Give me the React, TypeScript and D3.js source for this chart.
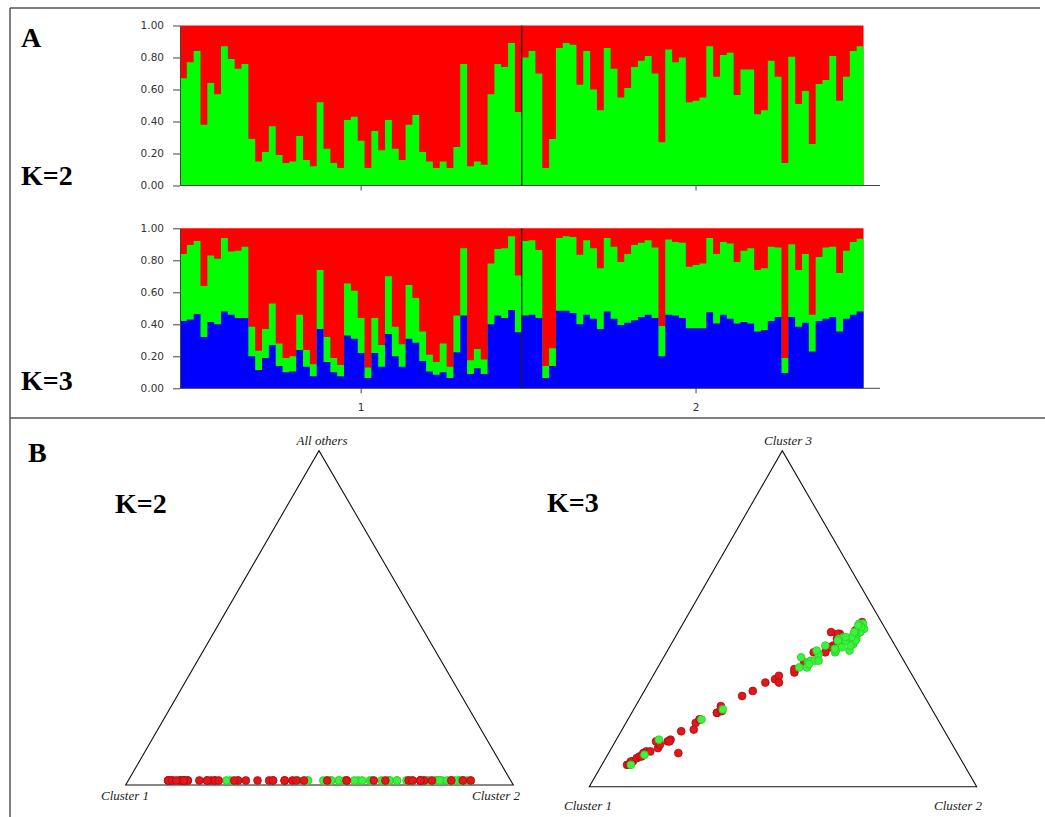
import React, { useEffect, useRef } from 'react';
import * as d3 from 'd3';

// K=2 membership in the green cluster (red = 1 - green), population 1 then 2
const pop1K2Green = [0.67,0.77,0.84,0.38,0.64,0.57,0.87,0.79,0.73,0.76,0.29,0.15,0.21,0.37,0.19,0.14,0.15,0.31,0.16,0.12,0.52,0.23,0.14,0.11,0.41,0.43,0.28,0.11,0.34,0.22,0.41,0.23,0.16,0.38,0.44,0.21,0.15,0.11,0.15,0.11,0.24,0.76,0.12,0.15,0.13,0.57,0.76,0.74,0.89,0.46];
const pop2K2Green = [0.80,0.84,0.70,0.11,0.29,0.86,0.89,0.88,0.63,0.84,0.60,0.47,0.86,0.73,0.55,0.61,0.74,0.78,0.81,0.70,0.27,0.85,0.77,0.80,0.52,0.53,0.55,0.87,0.68,0.815,0.83,0.565,0.725,0.725,0.445,0.47,0.78,0.68,0.14,0.805,0.51,0.59,0.26,0.635,0.66,0.81,0.53,0.68,0.84,0.87];

// K=3 memberships: blue and green clusters (red = remainder)
const pop1K3Blue = [0.42,0.43,0.465,0.32,0.415,0.40,0.48,0.46,0.44,0.44,0.20,0.115,0.19,0.27,0.14,0.10,0.105,0.24,0.135,0.075,0.37,0.165,0.10,0.075,0.33,0.31,0.22,0.065,0.22,0.135,0.34,0.20,0.135,0.31,0.285,0.17,0.105,0.085,0.10,0.065,0.225,0.455,0.09,0.125,0.09,0.40,0.455,0.44,0.49,0.35];
const pop1K3Green = [0.42,0.465,0.455,0.32,0.415,0.41,0.46,0.395,0.42,0.445,0.185,0.12,0.18,0.26,0.14,0.09,0.095,0.22,0.105,0.075,0.37,0.155,0.09,0.07,0.325,0.30,0.22,0.065,0.22,0.135,0.36,0.185,0.14,0.335,0.28,0.185,0.105,0.08,0.18,0.07,0.23,0.42,0.085,0.12,0.09,0.38,0.415,0.435,0.46,0.355];
const pop2K3Blue = [0.455,0.46,0.44,0.065,0.14,0.485,0.485,0.47,0.40,0.46,0.435,0.37,0.48,0.435,0.395,0.41,0.425,0.445,0.46,0.44,0.20,0.46,0.455,0.44,0.375,0.375,0.375,0.475,0.405,0.46,0.435,0.405,0.415,0.405,0.355,0.365,0.42,0.445,0.095,0.445,0.385,0.41,0.23,0.42,0.435,0.445,0.355,0.435,0.46,0.48];
const pop2K3Green = [0.465,0.465,0.425,0.075,0.11,0.455,0.465,0.475,0.435,0.465,0.44,0.38,0.46,0.45,0.395,0.43,0.47,0.465,0.465,0.44,0.19,0.47,0.46,0.47,0.385,0.395,0.405,0.465,0.435,0.455,0.47,0.385,0.445,0.47,0.385,0.385,0.465,0.435,0.095,0.455,0.355,0.43,0.23,0.40,0.445,0.44,0.365,0.425,0.455,0.455];

const yTickValues = [0, 0.2, 0.4, 0.6, 0.8, 1.0];
const popLabels = ['1', '2'];
const popTickIndex = [26, 75];
const k2CornerLabels = ['Cluster 1', 'Cluster 2', 'All others'];
const k3CornerLabels = ['Cluster 1', 'Cluster 2', 'Cluster 3'];

const COLORS: Record<string, string> = { red: '#ff0000', green: '#00ff00', blue: '#0000ff' };

type Pt = [number, number];

function tern(q: number[], V: Pt[]): Pt {
  return [
    q[0] * V[0][0] + q[1] * V[1][0] + q[2] * V[2][0],
    q[0] * V[0][1] + q[1] * V[1][1] + q[2] * V[2][1],
  ];
}

export default function App() {
  const axK2 = useRef<SVGGElement>(null);
  const axK3 = useRef<SVGGElement>(null);

  const n1 = pop1K2Green.length;
  const k2Green = [...pop1K2Green, ...pop2K2Green];
  const k3Blue = [...pop1K3Blue, ...pop2K3Blue];
  const k3Green = [...pop1K3Green, ...pop2K3Green];
  const ids = d3.range(k2Green.length);

  const x = d3.scaleBand<number>().domain(ids).range([180, 863.5]).padding(0);
  const bw = x.bandwidth();
  const yK2 = d3.scaleLinear().domain([0, 1]).range([185.5, 25.5]);
  const yK3 = d3.scaleLinear().domain([0, 1]).range([388.3, 228.3]);

  const k2Rows = k2Green.map((g) => ({ green: g, red: Math.max(0, 1 - g) }));
  const k3Rows = k3Blue.map((b, i) => ({ blue: b, green: k3Green[i], red: Math.max(0, 1 - b - k3Green[i]) }));
  const k2Stack = d3.stack<any>().keys(['green', 'red'])(k2Rows);
  const k3Stack = d3.stack<any>().keys(['blue', 'green', 'red'])(k3Rows);

  useEffect(() => {
    const mk = (ref: React.RefObject<SVGGElement>, y: d3.ScaleLinear<number, number>) => {
      if (!ref.current) return;
      const g = d3.select(ref.current);
      g.selectAll('*').remove();
      g.call(
        d3.axisLeft(y).tickValues(yTickValues).tickFormat(d3.format('.2f')).tickSize(7).tickSizeOuter(0).tickPadding(9)
      );
      g.select('.domain').attr('stroke', '#444').attr('stroke-width', 1);
      g.selectAll('.tick line').attr('stroke', '#444');
      g.selectAll('.tick text')
        .attr('font-family', 'DejaVu Sans, sans-serif')
        .attr('font-size', 10.5)
        .attr('fill', '#333');
    };
    mk(axK2, yK2);
    mk(axK3, yK3);
  }, []);

  const divX = x(n1)!;
  const endX = x(ids[ids.length - 1])! + bw;

  // Each layer drawn as one stepped area from 0 up to the layer's top: later layers cover earlier ones
  const renderBars = (stack: any[], y: d3.ScaleLinear<number, number>) => {
    const layers = [...stack].reverse();
    return layers.map((layer) => {
      const pts = layer.map((d: any, i: number) => ({ x: x(i)!, top: d[1] }));
      pts.push({ x: endX, top: layer[layer.length - 1][1] });
      const area = d3
        .area<any>()
        .x((d) => d.x)
        .y0(y(0))
        .y1((d) => y(d.top))
        .curve(d3.curveStepAfter);
      return <path key={layer.key} d={area(pts) || ''} fill={COLORS[layer.key]} />;
    });
  };

  const renderXAxis = (y: d3.ScaleLinear<number, number>, labels: boolean) => (
    <g stroke="#444">
      <line x1={180} x2={880} y1={y(0)} y2={y(0)} strokeWidth={1} />
      {popTickIndex.map((idx, j) => (
        <g key={j}>
          <line x1={x(idx)! + bw / 2} x2={x(idx)! + bw / 2} y1={y(0)} y2={y(0) + 5} />
          {labels && (
            <text
              x={x(idx)! + bw / 2}
              y={y(0) + 23}
              textAnchor="middle"
              stroke="none"
              fill="#333"
              fontFamily="DejaVu Sans, sans-serif"
              fontSize={10.5}
            >
              {popLabels[j]}
            </text>
          )}
        </g>
      ))}
      <line x1={divX} x2={divX} y1={y(1)} y2={y(0)} stroke="#222" strokeWidth={1.3} />
    </g>
  );

  // ternary triangles
  const VL: Pt[] = [[125.7, 785], [513.3, 785], [319, 450.7]];
  const VR: Pt[] = [[589.3, 786.7], [976.7, 786.7], [782.3, 450.7]];

  const k2Pts = k2Green.map((g, i) => ({ p: tern([1 - g, g, 0], VL), pop: i < n1 ? 1 : 2 }));
  const k3Pts = k3Blue.map((b, i) => ({ p: tern([1 - b - k3Green[i], k3Green[i], b], VR), pop: i < n1 ? 1 : 2 }));

  const drawPts = (pts: { p: Pt; pop: number }[], dy: number, order: number[]) => (
    <g>
      {order.map((pop) =>
        pts
          .filter((d) => d.pop === pop)
          .map((d, i) => (
            <circle
              key={pop + '-' + i}
              cx={d.p[0]}
              cy={d.p[1] + dy}
              r={3.9}
              fill={pop === 1 ? '#e3161b' : '#3cf23c'}
              stroke={pop === 1 ? '#a80e10' : '#26cf26'}
              strokeWidth={0.8}
            />
          ))
      )}
    </g>
  );

  const tri = (V: Pt[]) => (
    <polygon points={V.map((v) => v.join(',')).join(' ')} fill="none" stroke="#111" strokeWidth={1.1} />
  );

  const cornerLabel = (t: string, cx: number, by: number, key: string) => (
    <text key={key} x={cx} y={by} textAnchor="middle" fontFamily="Liberation Serif, serif" fontStyle="italic" fontSize={13} fill="#222">
      {t}
    </text>
  );

  const bigLabel = (t: string, lx: number, by: number) => (
    <text x={lx} y={by} fontFamily="Liberation Serif, serif" fontWeight="bold" fontSize={28} fill="#000">
      {t}
    </text>
  );

  return (
    <div style={{ position: 'fixed', left: 0, top: 0 }}>
      <svg width={1045} height={817} viewBox="0 0 1045 817" style={{ display: 'block', background: '#fff' }}>
        {/* frame */}
        <g stroke="#555" strokeWidth={1.5} fill="none">
          <line x1={10} x2={10} y1={8} y2={817} />
          <line x1={10} x2={1040} y1={8} y2={8} />
          <line x1={10} x2={1045} y1={418} y2={418} />
        </g>

        {bigLabel('A', 21, 47)}
        {bigLabel('K=2', 21, 185)}
        {bigLabel('K=3', 21, 390)}
        {bigLabel('B', 28, 462)}
        {bigLabel('K=2', 115, 513)}
        {bigLabel('K=3', 547, 512)}

        {renderBars(k2Stack, yK2)}
        {renderXAxis(yK2, false)}
        <g ref={axK2} transform="translate(180,0)" />

        {renderBars(k3Stack, yK3)}
        {renderXAxis(yK3, true)}
        <g ref={axK3} transform="translate(180,0)" />

        {tri(VL)}
        {drawPts(k2Pts, -4.5, [2, 1])}
        {cornerLabel(k2CornerLabels[2], 322, 445, 'l3')}
        {cornerLabel(k2CornerLabels[0], 125, 800, 'l1')}
        {cornerLabel(k2CornerLabels[1], 496, 800, 'l2')}

        {tri(VR)}
        {drawPts(k3Pts, 0, [1, 2])}
        {cornerLabel(k3CornerLabels[2], 788, 445, 'r3')}
        {cornerLabel(k3CornerLabels[0], 588, 810, 'r1')}
        {cornerLabel(k3CornerLabels[1], 958, 810, 'r2')}
      </svg>
    </div>
  );
}
